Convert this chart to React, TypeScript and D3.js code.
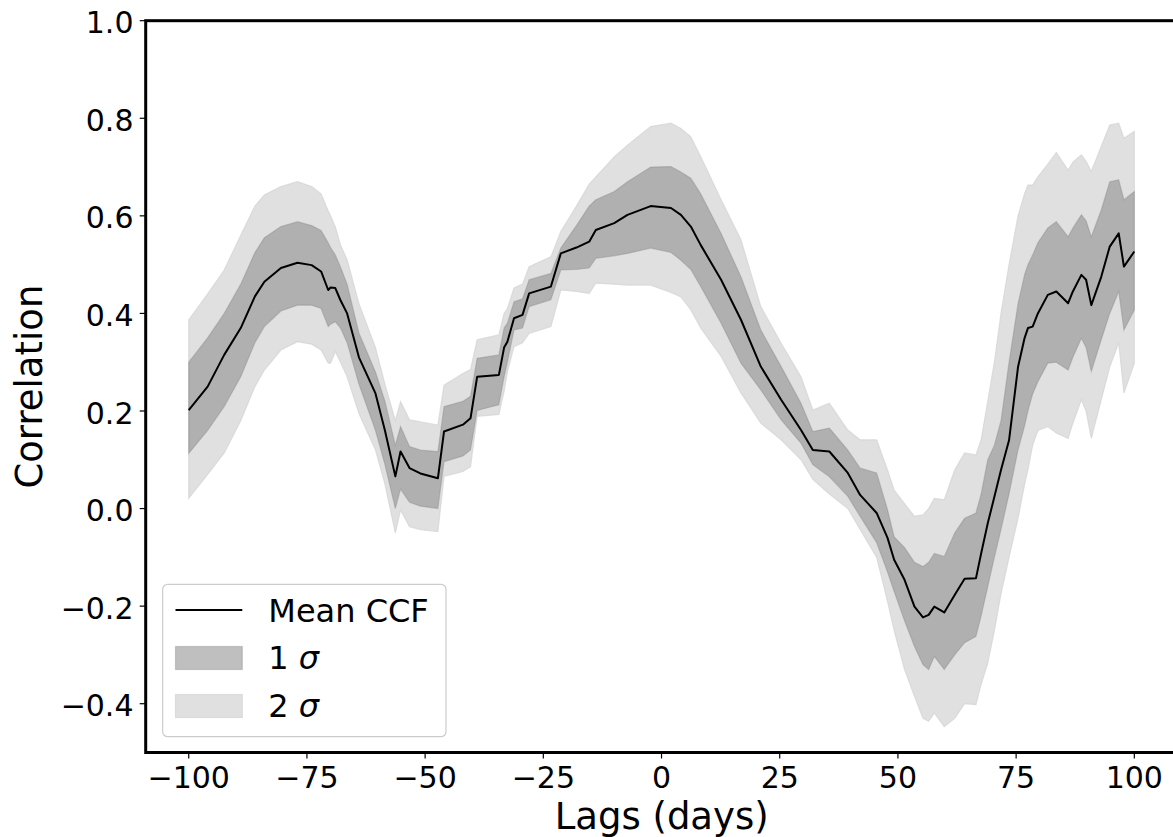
import React from "react";
import * as d3 from "d3";

const lags = [-100, -96, -92.5, -89, -86, -84, -80.5, -77, -74, -72, -70.5, -70, -69, -67.9, -66.5, -64, -60.5, -58.5, -56.3, -55.2, -53.3, -51, -47.3, -46, -42, -40.4, -39, -34.4, -33.3, -32.6, -31.2, -29.4, -28, -23.4, -21.3, -18, -15.3, -13.9, -10, -7.2, -2.3, 2, 4.1, 6.2, 8.3, 12.6, 16.8, 21, 25.3, 29.5, 32, 35.5, 39.4, 42, 45.5, 47.8, 49.2, 51.4, 53.5, 55.3, 56.5, 57.7, 59.8, 62, 64.1, 66.5, 67.6, 69, 70.4, 71.8, 73.5, 75.4, 76.8, 77.5, 78.5, 79.6, 81.7, 83.5, 86, 87, 88.8, 89.8, 90.9, 93, 94.8, 96.7, 97.8, 100];

const meanCCF = [
  0.202, 0.25, 0.315, 0.37, 0.435, 0.465, 0.493, 0.504, 0.499, 0.486,
  0.448, 0.453, 0.452, 0.427, 0.40, 0.31, 0.236, 0.16, 0.066, 0.117,
  0.083, 0.072, 0.062, 0.158, 0.172, 0.185, 0.27, 0.274, 0.33, 0.342,
  0.39, 0.397, 0.441, 0.455, 0.523, 0.535, 0.547, 0.571, 0.585, 0.602,
  0.62, 0.616, 0.602, 0.578, 0.54, 0.469, 0.387, 0.291, 0.223, 0.161,
  0.12, 0.117, 0.073, 0.028, -0.009, -0.06, -0.105, -0.146, -0.201, -0.223,
  -0.218, -0.201, -0.213, -0.177, -0.144, -0.143, -0.092, -0.03, 0.024, 0.079,
  0.14, 0.29, 0.35, 0.37, 0.373, 0.40, 0.438, 0.445, 0.421, 0.445,
  0.479, 0.469, 0.417, 0.475, 0.537, 0.564, 0.496, 0.527,
];

const sigma1High = [
  0.30, 0.35, 0.40, 0.46, 0.525, 0.555, 0.578, 0.588, 0.58, 0.57,
  0.545, 0.535, 0.52, 0.495, 0.46, 0.36, 0.28, 0.22, 0.13, 0.168,
  0.127, 0.12, 0.117, 0.209, 0.22, 0.23, 0.308, 0.315, 0.37, 0.38,
  0.424, 0.43, 0.469, 0.482, 0.534, 0.58, 0.62, 0.633, 0.65, 0.67,
  0.70, 0.701, 0.69, 0.677, 0.645, 0.564, 0.475, 0.366, 0.291, 0.216,
  0.158, 0.165, 0.12, 0.083, 0.073, -0.002, -0.058, -0.08, -0.11, -0.119,
  -0.11, -0.092, -0.098, -0.05, -0.02, -0.009, 0.03, 0.10, 0.13, 0.18,
  0.30, 0.42, 0.48, 0.50, 0.52, 0.545, 0.575, 0.588, 0.557, 0.575,
  0.602, 0.59, 0.557, 0.612, 0.67, 0.674, 0.633, 0.65,
];

const sigma1Low = [
  0.113, 0.16, 0.209, 0.27, 0.34, 0.373, 0.405, 0.417, 0.417, 0.41,
  0.373, 0.378, 0.383, 0.37, 0.34, 0.255, 0.16, 0.09, 0.0, 0.04,
  0.013, 0.005, 0.0, 0.096, 0.108, 0.12, 0.201, 0.213, 0.27, 0.30,
  0.366, 0.37, 0.414, 0.428, 0.489, 0.49, 0.493, 0.513, 0.518, 0.523,
  0.534, 0.525, 0.509, 0.49, 0.455, 0.38, 0.298, 0.243, 0.182, 0.134,
  0.09, 0.065, 0.025, -0.016, -0.07, -0.13, -0.17, -0.23, -0.283, -0.32,
  -0.33, -0.303, -0.33, -0.30, -0.275, -0.262, -0.22, -0.16, -0.10, -0.043,
  0.03, 0.12, 0.17, 0.20, 0.235, 0.26, 0.298, 0.30, 0.284, 0.31,
  0.349, 0.33, 0.281, 0.346, 0.40, 0.445, 0.366, 0.407,
];

const sigma2High = [
  0.387, 0.44, 0.489, 0.56, 0.62, 0.643, 0.66, 0.67, 0.66, 0.645,
  0.61, 0.60, 0.578, 0.54, 0.51, 0.42, 0.33, 0.255, 0.18, 0.219,
  0.182, 0.178, 0.171, 0.253, 0.277, 0.285, 0.346, 0.356, 0.40, 0.41,
  0.452, 0.46, 0.496, 0.516, 0.568, 0.62, 0.665, 0.68, 0.721, 0.745,
  0.783, 0.79, 0.779, 0.762, 0.721, 0.633, 0.551, 0.414, 0.339, 0.27,
  0.202, 0.216, 0.161, 0.141, 0.141, 0.079, 0.038, 0.01, -0.016, -0.013,
  0.0, 0.021, 0.018, 0.079, 0.114, 0.11, 0.141, 0.22, 0.30, 0.40,
  0.50, 0.60, 0.646, 0.663, 0.663, 0.68, 0.706, 0.73, 0.694, 0.71,
  0.725, 0.712, 0.691, 0.742, 0.786, 0.79, 0.759, 0.773,
];

const sigma2Low = [
  0.021, 0.07, 0.114, 0.18, 0.25, 0.284, 0.325, 0.342, 0.337, 0.325,
  0.298, 0.298, 0.322, 0.30, 0.27, 0.195, 0.12, 0.05, -0.05, -0.003,
  -0.037, -0.043, -0.047, 0.066, 0.076, 0.086, 0.189, 0.193, 0.24, 0.28,
  0.332, 0.34, 0.359, 0.373, 0.448, 0.445, 0.441, 0.462, 0.46, 0.458,
  0.458, 0.443, 0.434, 0.407, 0.37, 0.312, 0.237, 0.175, 0.141, 0.10,
  0.06, 0.03, 0.0, -0.043, -0.10, -0.19, -0.25, -0.33, -0.385, -0.43,
  -0.436, -0.419, -0.447, -0.43, -0.40, -0.402, -0.36, -0.317, -0.25, -0.175,
  -0.10, -0.02, 0.05, 0.08, 0.13, 0.16, 0.168, 0.155, 0.144, 0.175,
  0.223, 0.20, 0.144, 0.223, 0.29, 0.34, 0.237, 0.298,
];

const xTicks = [-100, -75, -50, -25, 0, 25, 50, 75, 100];
const yTicks = [-0.4, -0.2, 0.0, 0.2, 0.4, 0.6, 0.8, 1.0];
const xLabel = "Lags (days)";
const yLabel = "Correlation";
const legendLabels = ["Mean CCF", "1", "2"];

const W = 1173;
const H = 837;
const LEFT = 145.7;
const TOP = 20.7;
const BOTTOM = 752.5;
const RIGHT = LEFT + 219.1 * 4.728;
const FONT = "DejaVu Sans, sans-serif";

export default function App() {
  const x = d3.scaleLinear().domain([-109.1, 110]).range([LEFT, RIGHT]);
  const y = d3.scaleLinear().domain([-0.5, 1.0]).range([BOTTOM, TOP]);
  const idx = d3.range(lags.length);

  const area2 = d3
    .area<number>()
    .x((i) => x(lags[i]))
    .y0((i) => y(sigma2Low[i]))
    .y1((i) => y(sigma2High[i]));
  const area1 = d3
    .area<number>()
    .x((i) => x(lags[i]))
    .y0((i) => y(sigma1Low[i]))
    .y1((i) => y(sigma1High[i]));
  const line = d3
    .line<number>()
    .x((i) => x(lags[i]))
    .y((i) => y(meanCCF[i]));

  const fmtY = d3.format(".1f");
  const fmtX = d3.format("d");

  const legX = 162.7;
  const legY = 584.3;
  const handleX0 = 175.5;
  const handleX1 = 242.3;
  const textX = 268.3;
  const rows = [610, 658, 706];

  return (
    <svg
      width={W}
      height={H}
      style={{ position: "absolute", left: 0, top: 0, background: "#fff" }}
      fontFamily={FONT}
    >
      <defs>
        <clipPath id="plotclip">
          <rect x={LEFT} y={TOP} width={RIGHT - LEFT} height={BOTTOM - TOP} />
        </clipPath>
      </defs>
      <rect x={0} y={0} width={W} height={H} fill="#fff" />
      <g clipPath="url(#plotclip)">
        <path
          d={area2(idx) || ""}
          fill="#d3d3d3"
          fillOpacity={0.7}
          stroke="#d3d3d3"
          strokeOpacity={0.7}
          strokeWidth={1.2}
        />
        <path
          d={area1(idx) || ""}
          fill="#808080"
          fillOpacity={0.5}
          stroke="#808080"
          strokeOpacity={0.35}
          strokeWidth={1.2}
        />
        <path d={line(idx) || ""} fill="none" stroke="#000" strokeWidth={2} strokeLinejoin="round" />
      </g>

      {/* x ticks */}
      {xTicks.map((t) => (
        <g key={"x" + t}>
          <line x1={x(t)} x2={x(t)} y1={BOTTOM} y2={BOTTOM + 6} stroke="#000" strokeWidth={1.2} />
          <text x={x(t)} y={788} textAnchor="middle" fontSize={30} fill="#000">
            {t < 0 ? "\u2212" + fmtX(-t) : fmtX(t)}
          </text>
        </g>
      ))}
      {/* y ticks */}
      {yTicks.map((t) => (
        <g key={"y" + t}>
          <line x1={LEFT - 6} x2={LEFT} y1={y(t)} y2={y(t)} stroke="#000" strokeWidth={1.2} />
          <text x={133.5} y={y(t) + 12.6} textAnchor="end" fontSize={30} fill="#000">
            {fmtY(t)}
          </text>
        </g>
      ))}

      {/* spines */}
      <rect x={LEFT} y={TOP} width={RIGHT - LEFT} height={BOTTOM - TOP} fill="none" stroke="#000" strokeWidth={3} />

      {/* axis labels */}
      <text x={(LEFT + RIGHT) / 2 - 2} y={829} textAnchor="middle" fontSize={37} fill="#000">
        {xLabel}
      </text>
      <text
        transform={`translate(42, ${(TOP + BOTTOM) / 2}) rotate(-90)`}
        textAnchor="middle"
        fontSize={37}
        fill="#000"
      >
        {yLabel}
      </text>

      {/* legend */}
      <rect
        x={legX}
        y={legY}
        width={283.3}
        height={152.4}
        rx={5}
        ry={5}
        fill="#fff"
        fillOpacity={0.8}
        stroke="#cccccc"
        strokeWidth={1.2}
      />
      <line x1={handleX0} x2={handleX1} y1={rows[0]} y2={rows[0]} stroke="#000" strokeWidth={2} />
      <rect
        x={handleX0}
        y={rows[1] - 11.5}
        width={handleX1 - handleX0}
        height={23}
        fill="#808080"
        fillOpacity={0.5}
        stroke="#808080"
        strokeOpacity={0.35}
        strokeWidth={1.2}
      />
      <rect
        x={handleX0}
        y={rows[2] - 11.5}
        width={handleX1 - handleX0}
        height={23}
        fill="#d3d3d3"
        fillOpacity={0.7}
        stroke="#d3d3d3"
        strokeOpacity={0.7}
        strokeWidth={1.2}
      />
      <text x={textX} y={rows[0] + 11.7} fontSize={32} fill="#000">
        {legendLabels[0]}
      </text>
      <text x={textX} y={rows[1] + 11.2} fontSize={32} fill="#000">
        {legendLabels[1]}
        <tspan dx={10} fontStyle="italic">σ</tspan>
      </text>
      <text x={textX} y={rows[2] + 10.7} fontSize={32} fill="#000">
        {legendLabels[2]}
        <tspan dx={10} fontStyle="italic">σ</tspan>
      </text>
    </svg>
  );
}
